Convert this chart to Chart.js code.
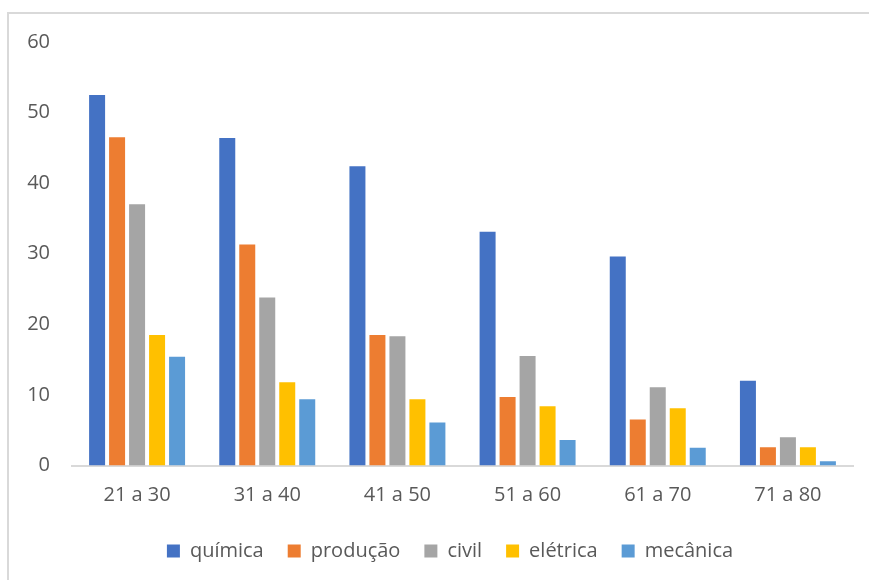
<!DOCTYPE html>
<html>
<head>
<meta charset="utf-8">
<script src="https://cdn.jsdelivr.net/npm/chart.js@4/dist/chart.umd.min.js"></script>
<style>
  html, body { margin: 0; padding: 0; background: #fff; overflow: hidden; }
  #frame {
    position: absolute; left: 7px; top: 12px; width: 880px; height: 600px;
    border-left: 2px solid #d9d9d9; border-top: 2px solid #d9d9d9;
  }
  #wrap { position: absolute; left: 0; top: 0; width: 869px; height: 571px; }
</style>
</head>
<body>
<div id="frame"></div>
<div id="wrap"><canvas id="myCanvas"></canvas></div>
<script>
        // Data
        const faixas = ['21 a 30', '31 a 40', '41 a 50', '51 a 60', '61 a 70', '71 a 80'];
        const quimica = [52.5, 46.4, 42.4, 33.1, 29.6, 12.0];
        const producao = [46.5, 31.3, 18.5, 9.7, 6.5, 2.6];
        const civil = [37.0, 23.8, 18.3, 15.5, 11.1, 4.0];
        const eletrica = [18.5, 11.8, 9.4, 8.4, 8.1, 2.6];
        const mecanica = [15.4, 9.4, 6.1, 3.6, 2.5, 0.6];

        const textColor = '#595959';
        Chart.defaults.font.family = '"Open Sans", sans-serif';
        Chart.defaults.font.size = 20;
        Chart.defaults.color = textColor;

        const ctx = document.getElementById('myCanvas').getContext('2d');

        function serie(label, data, color) {
            return {
                label: label,
                data: data,
                backgroundColor: color,
                borderWidth: 0,
                categoryPercentage: 0.768,
                barPercentage: 0.8,
            };
        }

        // legend sits a bit right of the canvas centre, like the original
        const legendShift = {
            id: 'legendShift',
            afterLayout(chart) {
                const l = chart.legend;
                l.left = 47;
                l.right = 853;
                l.width = l.right - l.left;
            },
        };

        const chart = new Chart(ctx, {
            type: 'bar',
            data: {
                labels: faixas,
                datasets: [
                    serie('química', quimica, '#4472C4'),
                    serie('produção', producao, '#ED7D31'),
                    serie('civil', civil, '#A5A5A5'),
                    serie('elétrica', eletrica, '#FFC000'),
                    serie('mecânica', mecanica, '#5B9BD5'),
                ],
            },
            options: {
                responsive: true,
                maintainAspectRatio: false,
                animation: false,
                layout: { padding: { top: 42, right: 16, bottom: 0, left: 0 } },
                plugins: {
                    tooltip: { enabled: false },
                    legend: {
                        position: 'bottom',
                        labels: {
                            boxWidth: 13,
                            boxHeight: 13,
                            padding: 24,
                            color: textColor,
                        },
                    },
                },
                scales: {
                    x: {
                        grid: { display: false },
                        border: { display: true, color: '#d9d9d9', width: 2 },
                        ticks: { padding: 10, color: textColor },
                        afterFit: (scale) => { scale.height = 51.5; },
                    },
                    y: {
                        min: 0,
                        max: 60,
                        grid: { display: false },
                        border: { display: false },
                        ticks: { stepSize: 10, padding: 14, color: textColor },
                        afterFit: (scale) => { scale.width = 72; },
                    },
                },
            },
            plugins: [legendShift],
        });
</script>
</body>
</html>
